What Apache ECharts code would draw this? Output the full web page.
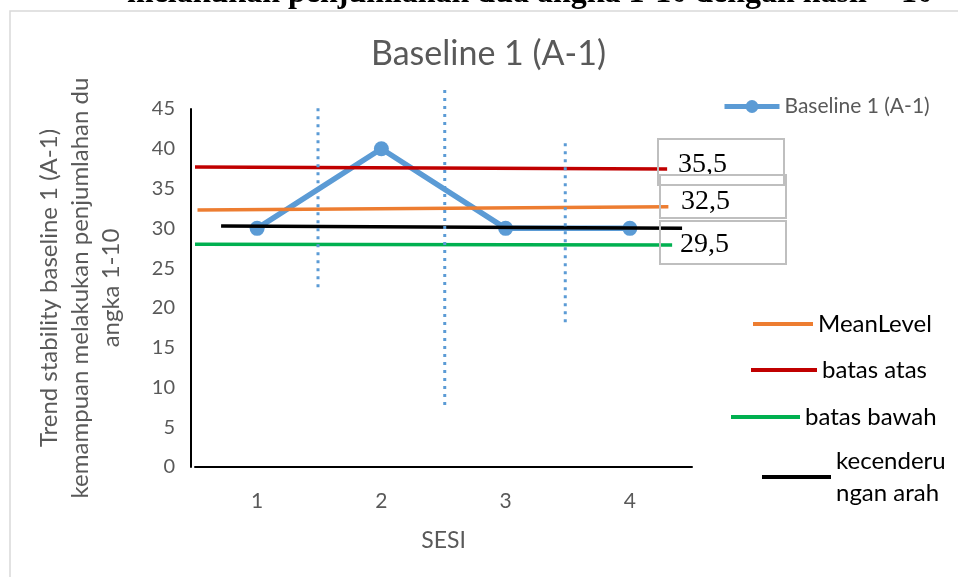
<!DOCTYPE html>
<html>
<head>
<meta charset="utf-8">
<script src="https://cdn.jsdelivr.net/npm/echarts@6/dist/echarts.min.js"></script>
<style>
html, body { margin: 0; padding: 0; background: #fff; }
#chart { width: 958px; height: 577px; }
</style>
</head>
<body>
<div id="chart"></div>
<script>
// data
const sesi = ['1', '2', '3', '4'];
const baseline = [30, 40, 30, 30];
// hand drawn lines, [x, y] on a 0.5..4.5 session scale
const batasAtas = [[0.5, 37.7], [4.3, 37.45]];
const meanLevel = [[0.52, 32.3], [4.31, 32.7]];
const batasBawah = [[0.5, 28.0], [4.34, 27.9]];
const kecenderungan = [[0.71, 30.3], [4.42, 30.0]];
// dotted phase separators
const garis1 = [[1.49, 45.1], [1.49, 22.0]];
const garis2 = [[2.51, 47.4], [2.51, 7.5]];
const garis3 = [[3.48, 40.7], [3.48, 17.7]];
const nilaiKotak = ['35,5', '32,5', '29,5'];

let $chart = echarts.init(document.getElementById('chart'));

const sans = 'Lato';
const grey = '#595959';

// text boxes next to the lines (x, y, w, h, textX, textY)
const kotakPos = [
	[658, 139, 126, 46, 678, 165],
	[660, 175, 126, 43, 681, 202],
	[660, 221, 126, 43, 680, 245]
];
let graphics = [{
	type: 'rect',
	shape: { x: 10, y: 11, width: 980, height: 600 },
	style: { fill: 'none', stroke: '#d9d9d9', lineWidth: 1.5 },
	z: 0
}];
nilaiKotak.forEach((t, i) => {
	const p = kotakPos[i];
	graphics.push({
		type: 'rect',
		shape: { x: p[0], y: p[1], width: p[2], height: p[3] },
		style: { fill: 'none', stroke: '#bfbfbf', lineWidth: 2 },
		z: 10
	});
	graphics.push({
		type: 'text',
		x: p[4], y: p[5],
		style: { text: t, font: '28px "Liberation Serif"', fill: '#000', verticalAlign: 'middle' },
		z: 10
	});
});

function garisSeries(name, data, color) {
	return {
		name: name, type: 'line', xAxisIndex: 1, data: data,
		symbol: 'none', color: color,
		lineStyle: { width: 3.5, color: color },
		silent: true, z: 3
	};
}
function fasaSeries(name, data) {
	return {
		name: name, type: 'line', xAxisIndex: 1, data: data,
		symbol: 'none', clip: false, color: '#5B9BD5',
		lineStyle: { width: 3, type: [3, 5], color: '#5B9BD5' },
		silent: true, z: 5
	};
}
// hand drawn legend entries: a plain coloured bar and black text
function legendItem(name, left, top, w, extra) {
	return Object.assign({
		data: [{ name: name, icon: 'rect' }], left: left, top: top,
		itemWidth: w, itemHeight: 4, selectedMode: false,
		textStyle: { color: '#000', fontSize: 24, fontFamily: sans }
	}, extra || {});
}

const option = {
	animation: false,
	title: [{
		text: 'Baseline 1 (A-1)', left: 371, top: 37, padding: 0,
		textStyle: { fontFamily: sans, fontSize: 34, fontWeight: 'normal', color: grey }
	}, {
		text: 'melakukan penjumlahan dua angka 1-10 dengan hasil < 10', left: 127, top: -22, padding: 0,
		textStyle: { fontFamily: 'Liberation Serif', fontSize: 32, fontWeight: 'bold', color: '#000' }
	}],
	legend: [
		{
			data: ['Baseline 1 (A-1)'], left: 717, top: 91,
			itemWidth: 55, itemHeight: 16, selectedMode: false,
			lineStyle: { width: 5 },
			textStyle: { color: grey, fontSize: 21, fontFamily: sans }
		},
		legendItem('MeanLevel', 748, 307, 60),
		legendItem('batas atas', 746, 353, 66),
		legendItem('batas bawah', 726, 400, 69),
		legendItem('kecenderungan arah', 757, 440, 69, {
			formatter: () => 'kecenderu\nngan arah',
			textStyle: { color: '#000', fontSize: 24, fontFamily: sans, lineHeight: 32 }
		})
	],
	grid: { left: 195, right: 266, top: 109, bottom: 110, outerBoundsMode: 'none' },
	xAxis: [{
		type: 'category', data: sesi, boundaryGap: true,
		axisLine: { lineStyle: { color: '#000', width: 2 } },
		axisTick: { show: false },
		axisLabel: { color: grey, fontSize: 21, fontFamily: sans, margin: 24 },
		name: 'SESI', nameLocation: 'middle', nameGap: 62,
		nameTextStyle: { color: grey, fontSize: 23, fontFamily: sans }
	}, {
		type: 'value', min: 0.5, max: 4.5, show: false
	}],
	yAxis: {
		type: 'value', min: 0, max: 45, interval: 5, offset: 4,
		axisLine: { show: true, lineStyle: { color: '#000', width: 2 } },
		axisTick: { show: false },
		splitLine: { show: false },
		axisLabel: { color: grey, fontSize: 20, fontFamily: sans, margin: 16 },
		name: 'Trend stability baseline 1 (A-1)\nkemampuan melakukan penjumlahan du\nangka 1-10',
		nameLocation: 'middle', nameRotate: 90, nameGap: 64,
		nameTextStyle: { color: grey, fontSize: 24, lineHeight: 31, fontFamily: sans, align: 'center' }
	},
	series: [
		{
			name: 'Baseline 1 (A-1)', type: 'line', data: baseline,
			color: '#5B9BD5', symbol: 'circle', symbolSize: 15,
			lineStyle: { width: 5.5, color: '#5B9BD5' }, z: 2
		},
		garisSeries('batas atas', batasAtas, '#C00000'),
		garisSeries('MeanLevel', meanLevel, '#ED7D31'),
		garisSeries('batas bawah', batasBawah, '#00B050'),
		garisSeries('kecenderungan arah', kecenderungan, '#000000'),
		fasaSeries('fase 1', garis1),
		fasaSeries('fase 2', garis2),
		fasaSeries('fase 3', garis3)
	],
	graphic: graphics
};

$chart.setOption(option, true);
</script>
</body>
</html>
